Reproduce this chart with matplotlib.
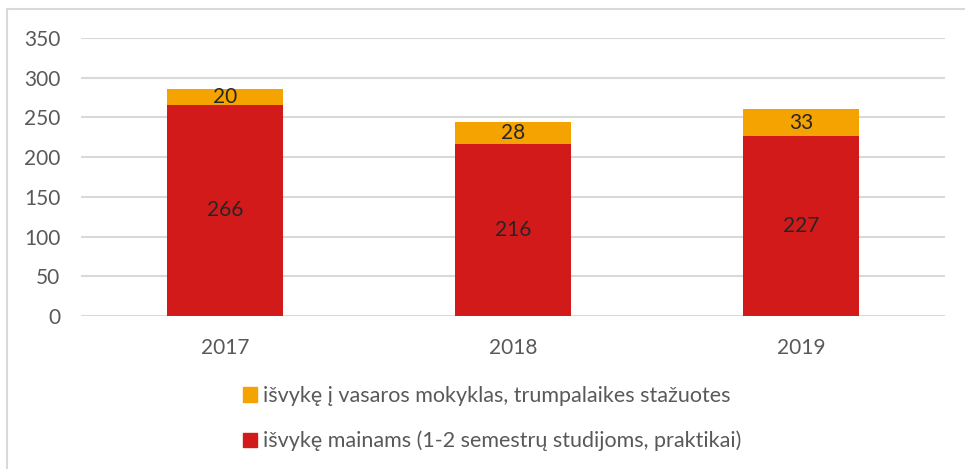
import matplotlib
matplotlib.use("Agg")
import matplotlib.pyplot as plt
from matplotlib.patches import Rectangle, Patch

years = ["2017", "2018", "2019"]
exchange = [266, 216, 227]
summer = [20, 28, 33]
yticks = [0, 50, 100, 150, 200, 250, 300, 350]
legend_labels = ["išvykę į vasaros mokyklas, trumpalaikes stažuotes",
                 "išvykę mainams (1-2 semestrų studijoms, praktikai)"]

RED = "#D21A1A"
ORANGE = "#F5A300"
TXT = "#595959"

plt.rcParams['font.family'] = ['Lato', 'DejaVu Sans']

fig = plt.figure(figsize=(9.65, 4.69), dpi=100)
fig.patches.append(Rectangle((7/965, -0.1), 1.2, 1 - 9/469 + 0.1,
                             transform=fig.transFigure, fill=False,
                             edgecolor="#D9D9D9", linewidth=1.5))
ax = fig.add_axes([81/965, 1 - 316/469, 864/965, (316 - 38)/469])

x = list(range(len(years)))
w = 0.403
ax.bar(x, exchange, width=w, color=RED, zorder=3)
ax.bar(x, summer, width=w, bottom=exchange, color=ORANGE, zorder=3)

for i in x:
    ax.text(i, exchange[i] / 2, str(exchange[i]), ha="center", va="center",
            fontsize=15, color="#262626", zorder=4)
    ax.text(i, exchange[i] + summer[i] / 2, str(summer[i]), ha="center",
            va="center", fontsize=15, color="#262626", zorder=4)

ax.set_xlim(-0.5, 2.5)
ax.set_ylim(0, 350)
ax.set_yticks(yticks)
ax.set_xticks(x)
ax.set_xticklabels(years)
ax.tick_params(axis="both", length=0, labelsize=15, colors=TXT)
ax.tick_params(axis="y", pad=15)
ax.tick_params(axis="x", pad=16)
ax.grid(axis="y", color="#D9D9D9", linewidth=1.5, zorder=0)
for s in ax.spines.values():
    s.set_visible(False)

handles = [Patch(color=ORANGE), Patch(color=RED)]
fig.legend(handles, legend_labels, loc="upper left",
           bbox_to_anchor=(243/965, 1 - 386/469), frameon=False,
           borderpad=0, borderaxespad=0,
           fontsize=15.5, labelcolor=TXT, handlelength=0.65,
           handleheight=0.65, handletextpad=0.3, labelspacing=1.15)

fig.savefig("out.png", dpi=100)
